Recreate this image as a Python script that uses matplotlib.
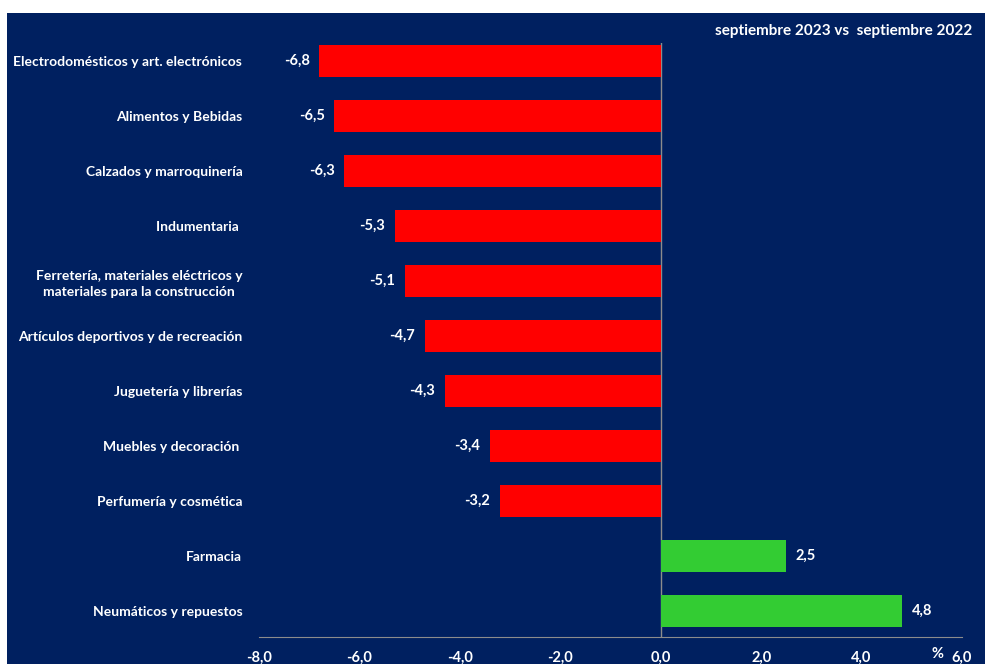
import numpy as np
import matplotlib.pyplot as plt
from matplotlib.patches import Rectangle

categorias = [
    "Electrodomésticos y art. electrónicos",
    "Alimentos y Bebidas",
    "Calzados y marroquinería",
    "Indumentaria ",
    "Ferretería, materiales eléctricos y\nmateriales para la construcción",
    "Artículos deportivos y de recreación",
    "Juguetería y librerías",
    "Muebles y decoración ",
    "Perfumería y cosmética",
    "Farmacia",
    "Neumáticos y repuestos",
]
valores = [-6.8, -6.5, -6.3, -5.3, -5.1, -4.7, -4.3, -3.4, -3.2, 2.5, 4.8]
ticks_x = [-8, -6, -4, -2, 0, 2, 4, 6]

navy = '#002060'
fs = 10.5
plt.rcParams['font.family'] = ['Lato', 'DejaVu Sans']

fig = plt.figure(figsize=(9.85, 6.64), dpi=100, facecolor='white')
# fondo azul del gráfico
fig.add_artist(Rectangle((7 / 985, 0), 1, (664 - 13) / 664, transform=fig.transFigure,
                         facecolor=navy, edgecolor='none', zorder=-5))

ax = fig.add_axes([259 / 985, 1 - 637 / 664, (962 - 259) / 985, (637 - 43) / 664])
ax.set_facecolor(navy)

y = np.arange(len(categorias))
colores = ['#FF0000' if v < 0 else '#33CC33' for v in valores]
ax.barh(y, valores, height=0.58, color=colores, zorder=2)

for yi, v in zip(y, valores):
    txt = f"{v:.1f}".replace('.', ',')
    if v < 0:
        ax.annotate(txt, (v, yi), xytext=(-7, 0), textcoords='offset points',
                    ha='right', va='center', color='white', fontsize=fs, fontweight='bold')
    else:
        ax.annotate(txt, (v, yi), xytext=(7, 0), textcoords='offset points',
                    ha='left', va='center', color='white', fontsize=fs, fontweight='bold')

ax.axvline(0, color='#8c8c8c', lw=1, zorder=1)
ax.set_xlim(-8, 6)
ax.set_ylim(10 + 26 / 55, -18 / 55)
ax.set_xticks(ticks_x)
ax.set_xticklabels([f"{t:.1f}".replace('.', ',') for t in ticks_x])
ax.set_yticks(y)
ax.set_yticklabels(categorias, ha='right', multialignment='center', linespacing=1.45)
ax.tick_params(axis='y', length=0, pad=12, colors='white', labelsize=10)
ax.tick_params(axis='x', length=0, pad=10, colors='white', labelsize=fs)
for lbl in ax.get_xticklabels() + ax.get_yticklabels():
    lbl.set_fontweight('bold')

for s in ['left', 'top', 'right']:
    ax.spines[s].set_visible(False)
ax.spines['bottom'].set_color('#8c8c8c')

fig.text(972 / 985, 1 - 31 / 664, "septiembre 2023 vs  septiembre 2022", ha='right', va='center',
         color='white', fontsize=11, fontweight='bold')
fig.text(937 / 985, 1 - 654 / 664, "%", ha='center', va='center',
         color='white', fontsize=fs, fontweight='bold')

plt.savefig('out.png', dpi=100, facecolor='white')
